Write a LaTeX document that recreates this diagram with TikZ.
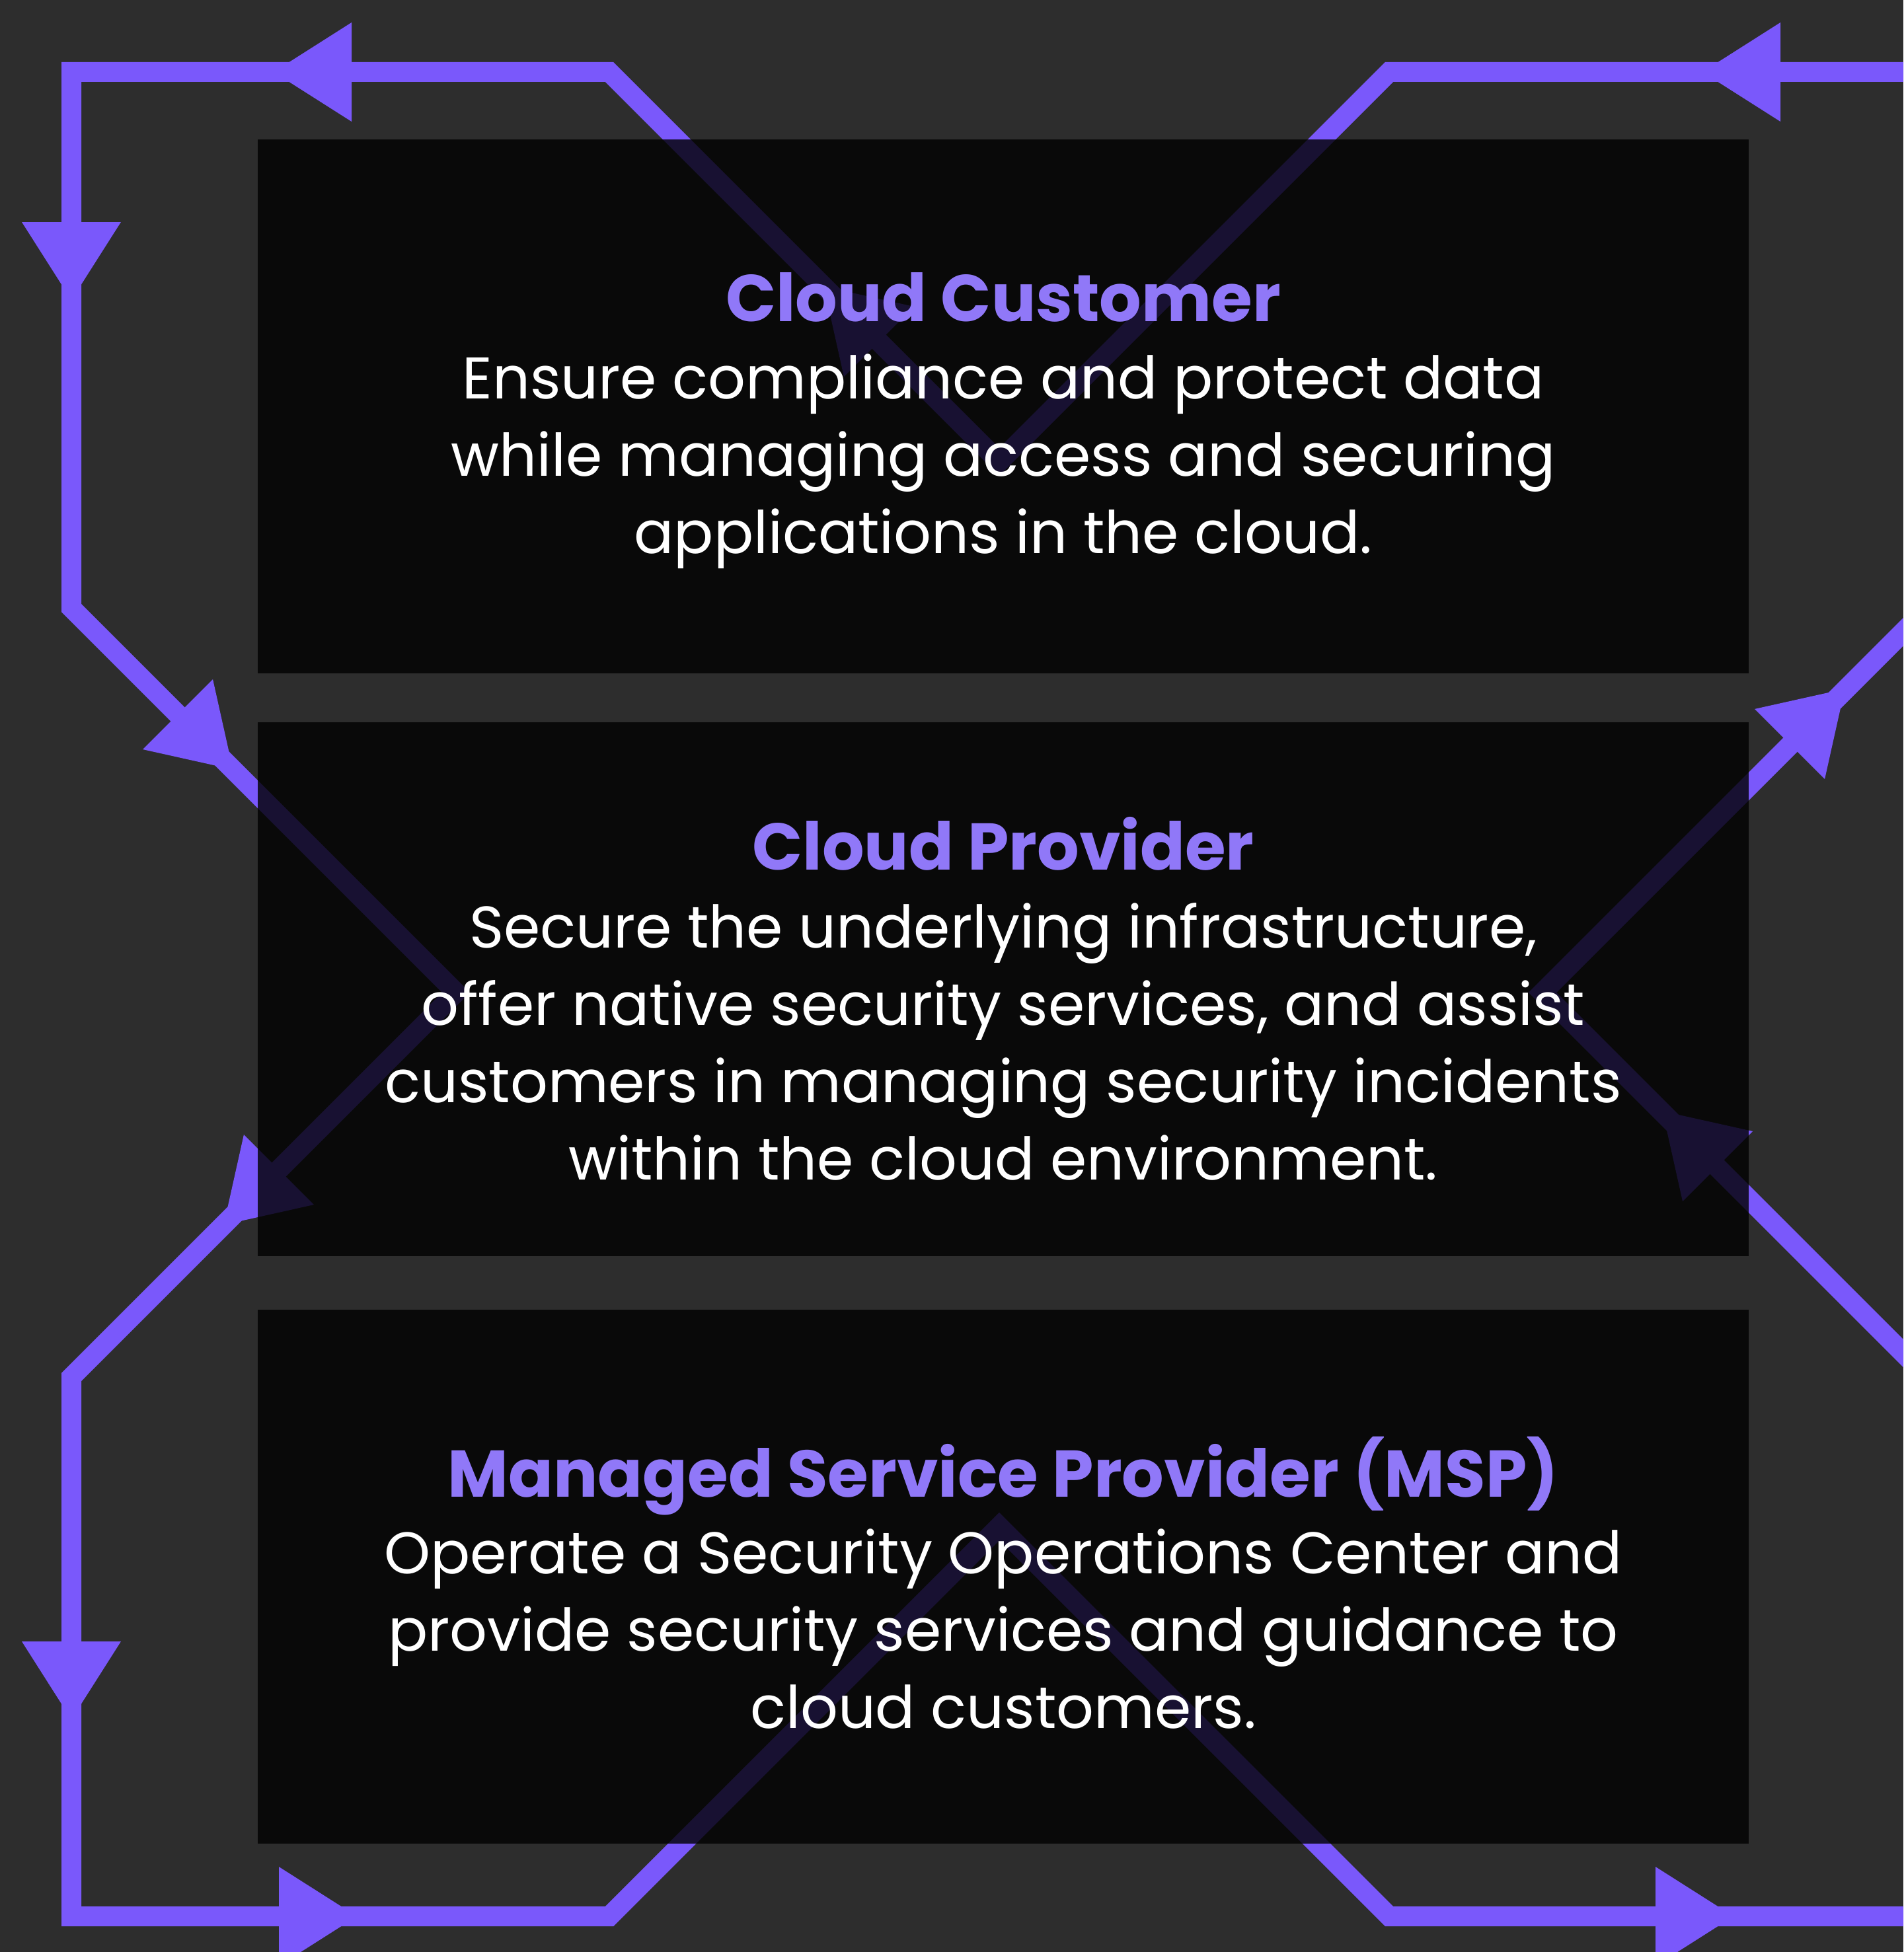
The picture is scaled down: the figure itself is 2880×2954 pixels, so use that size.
\documentclass[tikz,border=0pt]{standalone}
\usepackage{fontspec}
\setmainfont{Poppins}
\definecolor{bgc}{HTML}{2D2D2D}
\definecolor{flowc}{HTML}{7A58FB}
\definecolor{titlec}{HTML}{9078F8}
\begin{document}
\begin{tikzpicture}[x=1pt,y=-1pt,
  flow/.style={draw=flowc, line width=30pt, line join=miter},
  tipfill/.style={fill=flowc},
  card/.style={fill=black, fill opacity=0.8, draw=none, minimum width=2256pt, minimum height=808pt, inner sep=0pt},
  ttl/.style={text=titlec, font=\fontsize{100}{117}\selectfont\bfseries, anchor=base, inner sep=0pt},
  body/.style={text=white, font=\fontsize{89}{117}\selectfont, align=center, anchor=base, inner sep=0pt}]
\useasboundingbox (0,0) rectangle (2880,2954);
\fill[bgc] (0,0) rectangle (2880,2954);
\clip (0,0) rectangle (2880,2954);
% path corners
\coordinate (T) at (1512,699);
\coordinate (p2) at (922,109);
\coordinate (p3) at (108,109);
\coordinate (p4) at (108,920);
\coordinate (L) at (690,1502);
\coordinate (p6) at (108,2084);
\coordinate (p7) at (108,2900);
\coordinate (p8) at (922,2900);
\coordinate (B) at (1512,2310);
\coordinate (p10) at (2102,2900);
\coordinate (p11) at (2916,2900);
\coordinate (p12) at (2916,2084);
\coordinate (R) at (2334,1502);
\coordinate (p14) at (2916,920);
\coordinate (p15) at (2916,109);
\coordinate (p16) at (2102,109);
\draw[flow] (T) -- (p2) -- (p3) -- (p4) -- (L) -- (p6) -- (p7) -- (p8) -- (B) -- (p10) -- (p11) -- (p12) -- (R) -- (p14) -- (p15) -- (p16) -- cycle;
% arrow heads (base centres)
\coordinate (a1) at (532,109);
\coordinate (a2) at (108,336);
\coordinate (a3) at (269,1081);
\coordinate (a4) at (422,1770);
\coordinate (a5) at (108,2484);
\coordinate (a6) at (422,2900);
\coordinate (a7) at (2505,2900);
\coordinate (a8) at (2599,1765);
\coordinate (a9) at (2708,1126);
\coordinate (a10) at (2694,109);
\coordinate (a11) at (1330,517);
\foreach \c/\ang in {a1/180,a2/-90,a3/-45,a4/-135,a5/-90,a6/0,a7/0,a8/135,a9/45,a10/180,a11/135}
  \fill[tipfill, shift={(\c)}, rotate=\ang] (0,-75) -- (118,0) -- (0,75) -- cycle;
% cards
\node[card] (b1) at (1518,615) {};
\node[card] (b2) at (1518,1497) {};
\node[card] (b3) at (1518,2386) {};
% texts (body nodes anchored at the baseline of their last line)
\node[ttl] (t1) at (1518,486) {Cloud Customer};
\node[body] (d1) at (1518,837) {Ensure compliance and protect data\\while managing access and securing\\applications in the cloud.};
\node[ttl] (t2) at (1518,1316) {Cloud Provider};
\node[body] (d2) at (1518,1785) {Secure the underlying infrastructure,\\offer native security services, and assist\\customers in managing security incidents\\within the cloud environment.};
\node[ttl] (t3) at (1518,2265) {Managed Service Provider (MSP)};
\node[body] (d3) at (1518,2615) {Operate a Security Operations Center and\\provide security services and guidance to\\cloud customers.};
\end{tikzpicture}
\end{document}
